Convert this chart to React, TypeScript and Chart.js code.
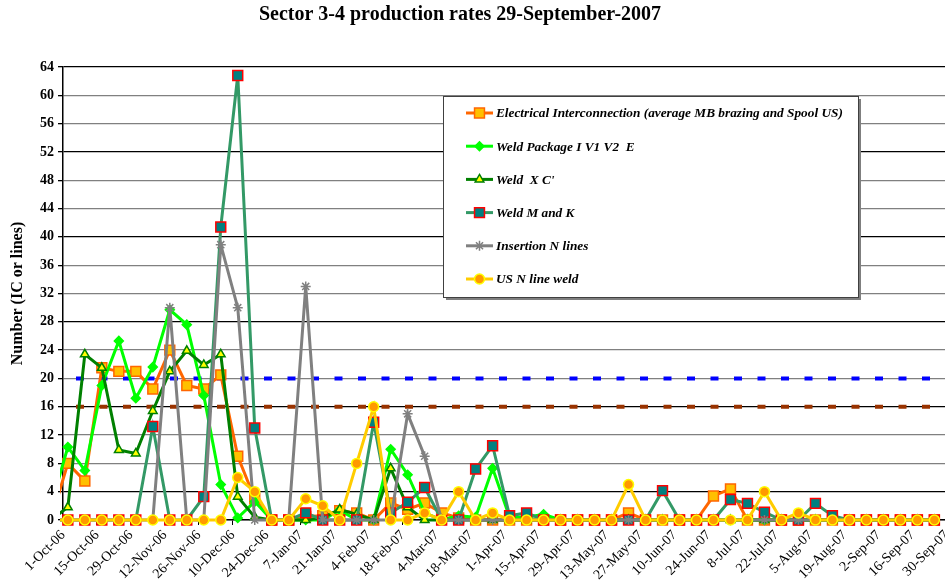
import { useEffect, useRef } from 'react';
import { Chart, registerables } from 'chart.js';
import { drawPoint } from 'chart.js/helpers';

Chart.register(...registerables);

const TITLE = 'Sector 3-4 production rates 29-September-2007';
const Y_TITLE = 'Number (IC or lines)';

// weekly measurement dates (one point per week; the first lies just before the axis start)
const weekDates = [
  '26-Sep-06',
  '3-Oct-06', '10-Oct-06', '17-Oct-06', '24-Oct-06', '31-Oct-06',
  '7-Nov-06', '14-Nov-06', '21-Nov-06', '28-Nov-06',
  '5-Dec-06', '12-Dec-06', '19-Dec-06', '26-Dec-06',
  '2-Jan-07', '9-Jan-07', '16-Jan-07', '23-Jan-07', '30-Jan-07',
  '6-Feb-07', '13-Feb-07', '20-Feb-07', '27-Feb-07',
  '6-Mar-07', '13-Mar-07', '20-Mar-07', '27-Mar-07',
  '3-Apr-07', '10-Apr-07', '17-Apr-07', '24-Apr-07',
  '1-May-07', '8-May-07', '15-May-07', '22-May-07', '29-May-07',
  '5-Jun-07', '12-Jun-07', '19-Jun-07', '26-Jun-07',
  '3-Jul-07', '10-Jul-07', '17-Jul-07', '24-Jul-07', '31-Jul-07',
  '7-Aug-07', '14-Aug-07', '21-Aug-07', '28-Aug-07',
  '4-Sep-07', '11-Sep-07', '18-Sep-07', '25-Sep-07',
];

const tickLabels = [
  '1-Oct-06', '15-Oct-06', '29-Oct-06', '12-Nov-06', '26-Nov-06', '10-Dec-06',
  '24-Dec-06', '7-Jan-07', '21-Jan-07', '4-Feb-07', '18-Feb-07', '4-Mar-07',
  '18-Mar-07', '1-Apr-07', '15-Apr-07', '29-Apr-07', '13-May-07', '27-May-07',
  '10-Jun-07', '24-Jun-07', '8-Jul-07', '22-Jul-07', '5-Aug-07', '19-Aug-07',
  '2-Sep-07', '16-Sep-07', '30-Sep-07',
];

const electrical = [
  0,
  8, 5.5, 21.5, 21, 21, 18.5, 24, 19, 18.5, 20.5, 9, 3, 0,
  0, 0.5, 0.6, 1.3, 1, 0, 2.4, 1.5, 2.4, 1, 0.3, 0, 0,
  0, 0, 0, 0, 0, 0, 0, 1, 0, 0, 0, 0, 3.4,
  4.4, 0, 0, 0, 0, 0, 0, 0, 0, 0, 0, 0, 0,
];
const weldPackage = [
  2,
  10.3, 7, 19, 25.3, 17.2, 21.6, 29.7, 27.6, 17.6, 5, 0.3, 2.6, 0,
  0, 0, 0, 1.4, 0, 0, 10, 6.4, 1, 0, 0.6, 0.4, 7.3,
  0.4, 0.4, 0.8, 0, 0, 0, 0, 0, 0, 0, 0, 0, 0,
  0, 0, 0, 0, 0, 0, 0, 0, 0, 0, 0, 0, 0,
];
const weldXC = [
  0,
  1.8, 23.4, 21.5, 9.9, 9.4, 15.4, 21, 23.9, 21.9, 23.4, 3.3, 0.4, 0,
  0, 0, 0.3, 1.5, 0.8, 0, 7.3, 1.8, 0, 0, 0, 0, 0,
  0, 0, 0, 0, 0, 0, 0, 0, 0, 0, 0, 0, 0,
  0, 0, 0, 0, 0, 0, 0, 0, 0, 0, 0, 0, 0,
];
const weldMK = [
  0,
  0, 0, 0, 0, 0, 13.2, 0, 0, 3.3, 41.4, 62.8, 13, 0,
  0, 1, 0, 0, 0, 13.8, 1, 2.5, 4.6, 0, 0, 7.2, 10.5,
  0.6, 1, 0, 0, 0, 0, 0, 0, 0, 4.15, 0, 0, 0,
  2.9, 2.35, 1.1, 0, 0, 2.35, 0.6, 0, 0, 0, 0, 0, 0,
];
const insertionN = [
  0,
  0, 0, 0, 0, 0, 0, 30, 0, 0, 38.9, 30, 0, 0,
  0, 33, 0, 0, 0, 0, 0, 15, 9, 0, 0, 0, 0,
  0, 0, 0, 0, 0, 0, 0, 0, 0, 0, 0, 0, 0,
  0, 0, 0, 0, 0, 0, 0, 0, 0, 0, 0, 0, 0,
];
const usNLineWeld = [
  0,
  0, 0, 0, 0, 0, 0, 0, 0, 0, 0, 6, 4, 0,
  0, 3, 2, 0, 8, 16, 0, 0, 1, 0, 4, 0, 1,
  0, 0, 0, 0, 0, 0, 0, 5, 0, 0, 0, 0, 0,
  0, 0, 4, 0, 1, 0, 0, 0, 0, 0, 0, 0, 0,
];

const targetHigh = 20;
const targetLow = 16;

const MONTHS: Record<string, number> = {
  Jan: 0, Feb: 1, Mar: 2, Apr: 3, May: 4, Jun: 5, Jul: 6, Aug: 7, Sep: 8, Oct: 9, Nov: 10, Dec: 11,
};
const ORIGIN = Date.UTC(2006, 9, 1);
function dayOf(label: string): number {
  const [d, m, y] = label.split('-');
  return (Date.UTC(2000 + Number(y), MONTHS[m], Number(d)) - ORIGIN) / 86400000;
}

const SERIF = '"Liberation Serif", "Times New Roman", serif';

const seriesDefs = [
  { label: 'Electrical Interconnection (average MB brazing and Spool US)', data: electrical, line: '#FF6600', style: 'rect', radius: 7, fill: '#FFC000', border: '#FF6600', order: 6 },
  { label: 'Weld Package I V1 V2  E', data: weldPackage, line: '#00FF00', style: 'rectRot', radius: 4.5, fill: '#00FF00', border: '#00FF00', order: 5 },
  { label: "Weld  X C'", data: weldXC, line: '#008000', style: 'triangle', radius: 5, fill: '#FFFF00', border: '#008000', order: 4 },
  { label: 'Weld M and K', data: weldMK, line: '#339966', style: 'rect', radius: 7, fill: '#008080', border: '#FF0000', order: 3 },
  { label: 'Insertion N lines', data: insertionN, line: '#808080', style: 'star', radius: 5, fill: '#808080', border: '#808080', order: 2 },
  { label: 'US N line weld', data: usNLineWeld, line: '#FFCC00', style: 'circle', radius: 5, fill: '#FF9900', border: '#FFFF00', order: 1 },
];

const titlePlugin = {
  id: 'fixedTitle',
  afterDraw(chart: any, _args: any, opts: any) {
    const { ctx } = chart;
    ctx.save();
    ctx.fillStyle = '#000';
    ctx.font = 'bold 20px ' + SERIF;
    ctx.textAlign = 'center';
    ctx.textBaseline = 'middle';
    ctx.fillText(opts.text, opts.x, opts.y);
    ctx.restore();
  },
};

const legendPlugin = {
  id: 'boxLegend',
  afterDraw(chart: any, _args: any, opts: any) {
    const { ctx } = chart;
    const { left, top, width, height, firstRow, rowGap, lineX0, lineX1, textX } = opts;
    ctx.save();
    ctx.fillStyle = '#7f7f7f';
    ctx.fillRect(left + 3, top + 3, width, height);
    ctx.fillStyle = '#ffffff';
    ctx.fillRect(left, top, width, height);
    ctx.strokeStyle = '#404040';
    ctx.lineWidth = 1;
    ctx.strokeRect(left + 0.5, top + 0.5, width, height);
    seriesDefs.forEach((s, i) => {
      const y = firstRow + i * rowGap;
      ctx.strokeStyle = s.line;
      ctx.lineWidth = 3;
      ctx.beginPath();
      ctx.moveTo(lineX0, y);
      ctx.lineTo(lineX1, y);
      ctx.stroke();
      ctx.fillStyle = s.fill;
      ctx.strokeStyle = s.border;
      ctx.lineWidth = 1.5;
      drawPoint(ctx, { pointStyle: s.style as any, rotation: 0, radius: s.radius, borderWidth: 1.5 }, (lineX0 + lineX1) / 2, y);
      ctx.fillStyle = '#000';
      ctx.font = 'italic bold 13.3px ' + SERIF;
      ctx.textBaseline = 'middle';
      ctx.textAlign = 'left';
      ctx.fillText(s.label, textX, y + 1);
    });
    ctx.restore();
  },
};

export default function App() {
  const ref = useRef<HTMLCanvasElement | null>(null);

  useEffect(() => {
    if (!ref.current) return;
    const xMin = dayOf(tickLabels[0]);
    const xMax = dayOf(tickLabels[tickLabels.length - 1]);

    const datasets: any[] = seriesDefs.map((s) => ({
      type: 'line',
      label: s.label,
      data: s.data.map((v, i) => ({ x: dayOf(weekDates[i]), y: v })),
      borderColor: s.line,
      backgroundColor: s.fill,
      borderWidth: 3,
      pointStyle: s.style,
      pointRadius: s.radius,
      pointBackgroundColor: s.fill,
      pointBorderColor: s.border,
      pointBorderWidth: 1.5,
      tension: 0,
      order: s.order,
      clip: { left: 3, top: 8, right: 8, bottom: 8 },
    }));

    [
      { value: targetHigh, color: '#0000FF', order: 20 },
      { value: targetLow, color: '#993300', order: 21 },
    ].forEach((t) => {
      datasets.push({
        type: 'line',
        label: 'target ' + t.value,
        data: [{ x: xMin, y: t.value }, { x: xMax, y: t.value }],
        borderColor: t.color,
        borderWidth: 4,
        borderDash: [8, 15.5],
        borderDashOffset: 10.5,
        borderCapStyle: 'butt',
        pointRadius: 0,
        order: t.order,
      });
    });

    const chart = new Chart(ref.current, {
      type: 'line',
      data: { datasets },
      plugins: [titlePlugin, legendPlugin],
      options: {
        animation: false,
        responsive: false,
        events: [],
        layout: { padding: { left: 0, right: 3.5, top: 67, bottom: 0 } },
        plugins: {
          legend: { display: false },
          tooltip: { enabled: false },
          title: { display: false },
          fixedTitle: { text: TITLE, x: 460, y: 14.5 },
          boxLegend: {
            left: 443, top: 96, width: 415, height: 201,
            firstRow: 113, rowGap: 33.2, lineX0: 466, lineX1: 493, textX: 496,
          },
        } as any,
        scales: {
          x: {
            type: 'linear',
            min: xMin,
            max: xMax,
            afterBuildTicks: (scale: any) => {
              scale.ticks = tickLabels.map((l) => ({ value: dayOf(l) }));
            },
            afterFit: (scale: any) => {
              scale.height = 60;
              scale.paddingLeft = 0;
              scale.paddingRight = 0;
            },
            ticks: {
              autoSkip: false,
              maxRotation: 45,
              minRotation: 45,
              color: '#000',
              padding: 2,
              font: { family: SERIF, size: 14 },
              callback: (_v: any, i: number) => tickLabels[i],
            },
            grid: { drawOnChartArea: false, drawTicks: true, tickLength: 5, color: '#000' },
            border: { display: true, color: '#000', width: 1.5 },
          },
          y: {
            min: 0,
            max: 64,
            afterFit: (scale: any) => {
              scale.width = 63;
              scale.paddingTop = 0;
            },
            ticks: {
              stepSize: 4,
              color: '#000',
              padding: 4,
              font: { family: SERIF, size: 14, weight: 'bold' },
            },
            grid: {
              color: (c: any) => (c.tick && c.tick.value % 12 === 4 ? '#000000' : '#808080'),
              lineWidth: 1.3,
              tickLength: 5,
              tickColor: '#000',
            },
            border: { display: true, color: '#000', width: 1.5 },
            title: {
              display: true,
              text: Y_TITLE,
              color: '#000',
              font: { family: SERIF, size: 16, weight: 'bold' },
              padding: { top: 8, bottom: 0 },
            },
          },
        },
      } as any,
    });
    return () => chart.destroy();
  }, []);

  return (
    <div style={{ position: 'fixed', left: 0, top: 0, width: 945, height: 580, overflow: 'hidden', background: '#fff' }}>
      <canvas ref={ref} width={955} height={580} style={{ display: 'block' }} />
    </div>
  );
}
